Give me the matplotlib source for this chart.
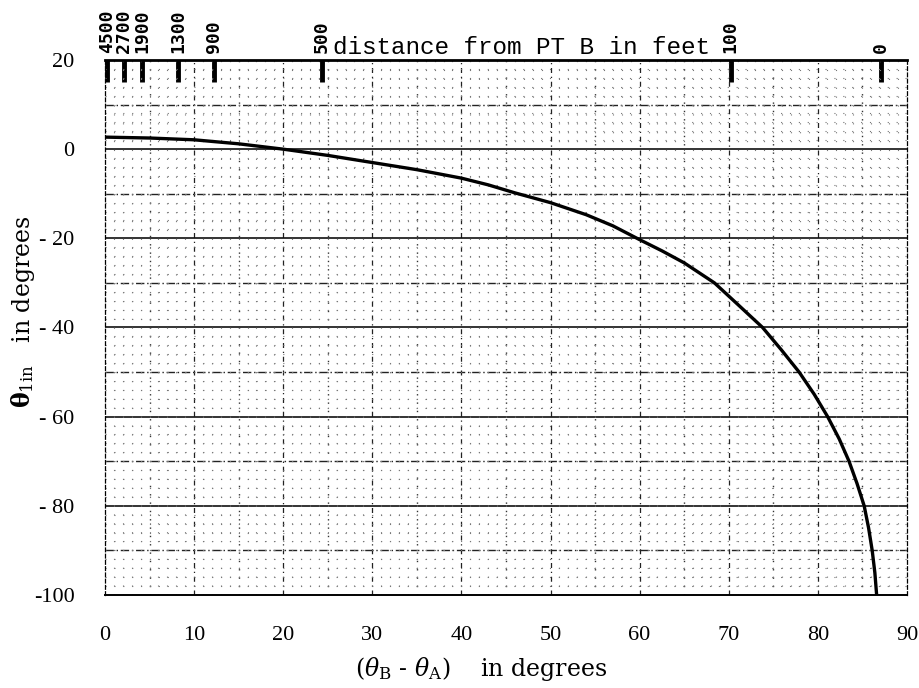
import numpy as np
import matplotlib
matplotlib.use('Agg')
import matplotlib.pyplot as plt
from matplotlib.ticker import MultipleLocator

# curve: (theta_B - theta_A) vs theta_1in
dtheta = [0, 5, 10, 15, 20, 25, 30, 35, 40, 43, 46, 50, 54, 57, 60, 62.5, 65, 68.4, 71, 73.8,
          75.9, 77.9, 79.6, 81.1, 82.4, 83.5, 84.4, 85.2, 85.7, 86.1, 86.4, 86.6]
theta_in = [2.7, 2.5, 2.1, 1.2, 0.0, -1.4, -3.0, -4.6, -6.5, -8.0, -9.8, -12.0, -14.7, -17.2,
            -20.3, -22.8, -25.5, -30.0, -34.8, -40.0, -45.0, -50.0, -55.0, -60.0, -65.0, -70.0,
            -75.0, -80.0, -85.0, -90.0, -95.0, -100.0]

# top scale: distance from PT B in feet
dist_pos = [0.2, 2.1, 4.2, 8.2, 12.2, 24.3, 70.2, 87.1]
dist_labels = ['4500', '2700', '1900', '1300', '900', '500', '100', '0']

xticks = list(range(0, 91, 10))
yticks = list(range(20, -101, -20))
ytick_labels = ['20', '0', '- 20', '- 40', '- 60', '- 80', '-100']

plt.rcParams['font.family'] = ['Liberation Serif', 'DejaVu Serif']
plt.rcParams['mathtext.fontset'] = 'dejavuserif'
plt.rcParams['axes.unicode_minus'] = False

fig = plt.figure(figsize=(9.2, 6.88), dpi=100)
ax = fig.add_axes([0.1141, 0.1352, 0.8717, 0.7776])

ax.set_xlim(0, 90)
ax.set_ylim(-100, 20)

# paper grid
ax.xaxis.set_minor_locator(MultipleLocator(1))
ax.yaxis.set_minor_locator(MultipleLocator(2))
ax.grid(which='minor', color='#777777', linestyle=(0, (1, 7)), linewidth=0.8)
for x in range(5, 90, 10):
    ax.axvline(x, color='#333333', linestyle=(0, (1, 5)), linewidth=1.0, zorder=1)
for x in range(10, 90, 10):
    ax.axvline(x, color='#222222', linestyle=(0, (4, 3, 1, 3)), linewidth=0.9, zorder=1)
for y in range(-90, 20, 10):
    if y % 20 == 0:
        ax.axhline(y, color='#111111', linestyle='-', linewidth=1.2, zorder=1)
    else:
        ax.axhline(y, color='#222222', linestyle=(0, (6, 2, 1, 2)), linewidth=1.0, zorder=1)

ax.plot(dtheta, theta_in, color='black', linewidth=2.4, zorder=3)

ax.set_xticks(xticks)
ax.set_yticks(yticks)
ax.set_yticklabels(ytick_labels)
ax.tick_params(which='both', length=0)
ax.tick_params(axis='x', pad=22, labelsize=16)
ax.tick_params(axis='y', pad=22, labelsize=16)

ax.spines['top'].set_linewidth(2.0)
ax.spines['bottom'].set_linewidth(1.4)
for side in ['left', 'right']:
    ax.spines[side].set_linestyle((0, (3, 2)))
    ax.spines[side].set_linewidth(0.9)

# top distance scale
sec = ax.secondary_xaxis('top')
sec.set_xticks(dist_pos)
sec.set_xticklabels(dist_labels, rotation=90, fontsize=13, fontweight='bold',
                    family=['DejaVu Sans Mono'])
sec.tick_params(direction='in', length=16, width=3.5, pad=5, color='black')
sec.spines['top'].set_visible(False)

ax.text(25.6, 20.3, 'distance from PT B in feet', family=['Liberation Mono', 'DejaVu Sans Mono'],
        fontsize=17.5, ha='left', va='bottom')

ax.set_xlabel(r'($\theta_{\rm B}$ - $\theta_{\rm A}$)    in degrees', fontsize=17,
              family=['DejaVu Serif'])
ax.xaxis.set_label_coords(0.469, -0.112)
ax.set_ylabel(r'$\mathbf{\theta}_{\rm 1in}$   in degrees', fontsize=17, family=['DejaVu Serif'])
ax.yaxis.set_label_coords(-0.085, 0.53)

fig.savefig('out.png', dpi=100)
